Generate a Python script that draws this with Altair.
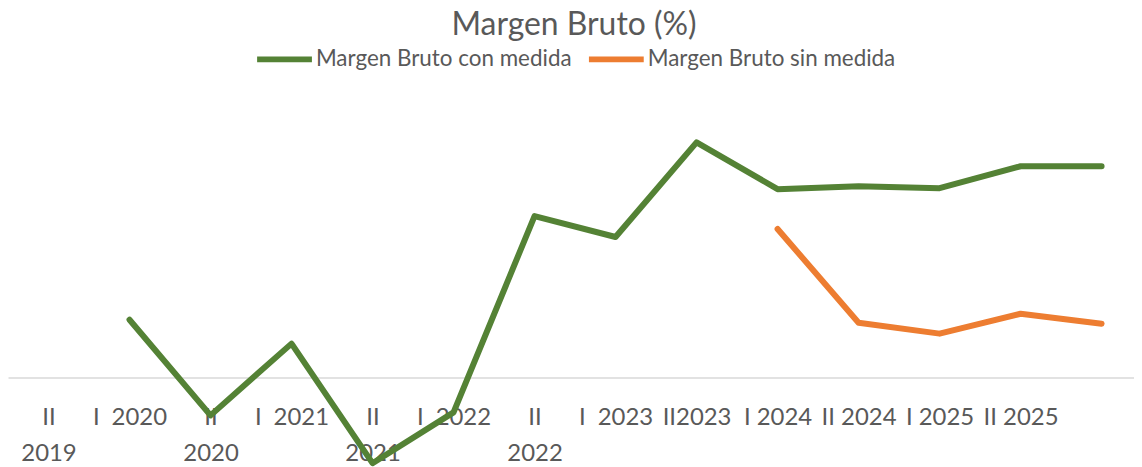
import json
import altair as alt
import pandas as pd

# ---- data ----
tick_labels = ["II\n2019", "I\u20022020", "II\n2020", "I\u20022021", "II\n2021", "I\u20022022",
               "II\n2022", "I\u20022023", "II2023", "I 2024", "II 2024", "I 2025", "II 2025"]
period_index = list(range(14))          # 14 category slots, last one unlabeled

series_names = ["Margen Bruto con medida", "Margen Bruto sin medida"]
con_medida_idx = list(range(1, 14))
con_medida = [5.8, -3.8, 3.4, -8.6, -3.5, 16.2, 14.1, 23.6, 18.9, 19.2, 19.0, 21.2, 21.2]
sin_medida_idx = [9, 10, 11, 12, 13]
sin_medida = [14.9, 5.5, 4.4, 6.4, 5.4]

colors = ["#548235", "#ED7D31"]
text_color = "#595959"

rows = []
for i, v in zip(con_medida_idx, con_medida):
    rows.append({"idx": i, "serie": series_names[0], "valor": v})
for i, v in zip(sin_medida_idx, sin_medida):
    rows.append({"idx": i, "serie": series_names[1], "valor": v})
df = pd.DataFrame(rows)

expr_labels = [t.replace("\n", "|") for t in tick_labels]
label_expr = f"split({json.dumps(expr_labels)}[round(datum.value)], '|')"

chart = alt.Chart(df).mark_line(strokeWidth=6, strokeCap="round", strokeJoin="round").encode(
    x=alt.X("idx:Q",
            scale=alt.Scale(domain=[-0.5, 13.4], nice=False, zero=False),
            axis=alt.Axis(values=list(range(len(tick_labels))), labelExpr=label_expr,
                          title=None, ticks=False, tickSize=0, grid=False,
                          domainColor="#D9D9D9", domainWidth=1.5,
                          labelFontSize=24, labelColor=text_color, labelFont="Lato",
                          labelPadding=28, labelBaseline="top", labelLineHeight=36,
                          labelOverlap=False, labelFlush=False, labelBound=False,
                          labelAlign="center")),
    y=alt.Y("valor:Q", scale=alt.Scale(domain=[0, 29], nice=False, zero=False), axis=None),
    color=alt.Color("serie:N",
                    scale=alt.Scale(domain=series_names, range=colors),
                    legend=alt.Legend(title=None, orient="none", direction="horizontal",
                                      legendX=247, legendY=-60, symbolType="stroke",
                                      symbolSize=3025, symbolStrokeWidth=6,
                                      labelFontSize=22.5, labelColor=text_color,
                                      labelFont="Lato", labelOffset=1, columnPadding=5,
                                      labelLimit=500)),
    detail="serie:N",
).properties(
    width=1130,
    height=290,
    title=alt.TitleParams("Margen Bruto (%)", fontSize=32, font="Lato", fontWeight="normal",
                          color=text_color, anchor="middle", offset=-13, dx=3),
    padding={"left": 0, "top": 0, "right": 0, "bottom": 0},
).configure(font="Lato", view=alt.ViewConfig(stroke=None))

chart.save("out.html", embed_options={"renderer": "svg", "actions": False})
